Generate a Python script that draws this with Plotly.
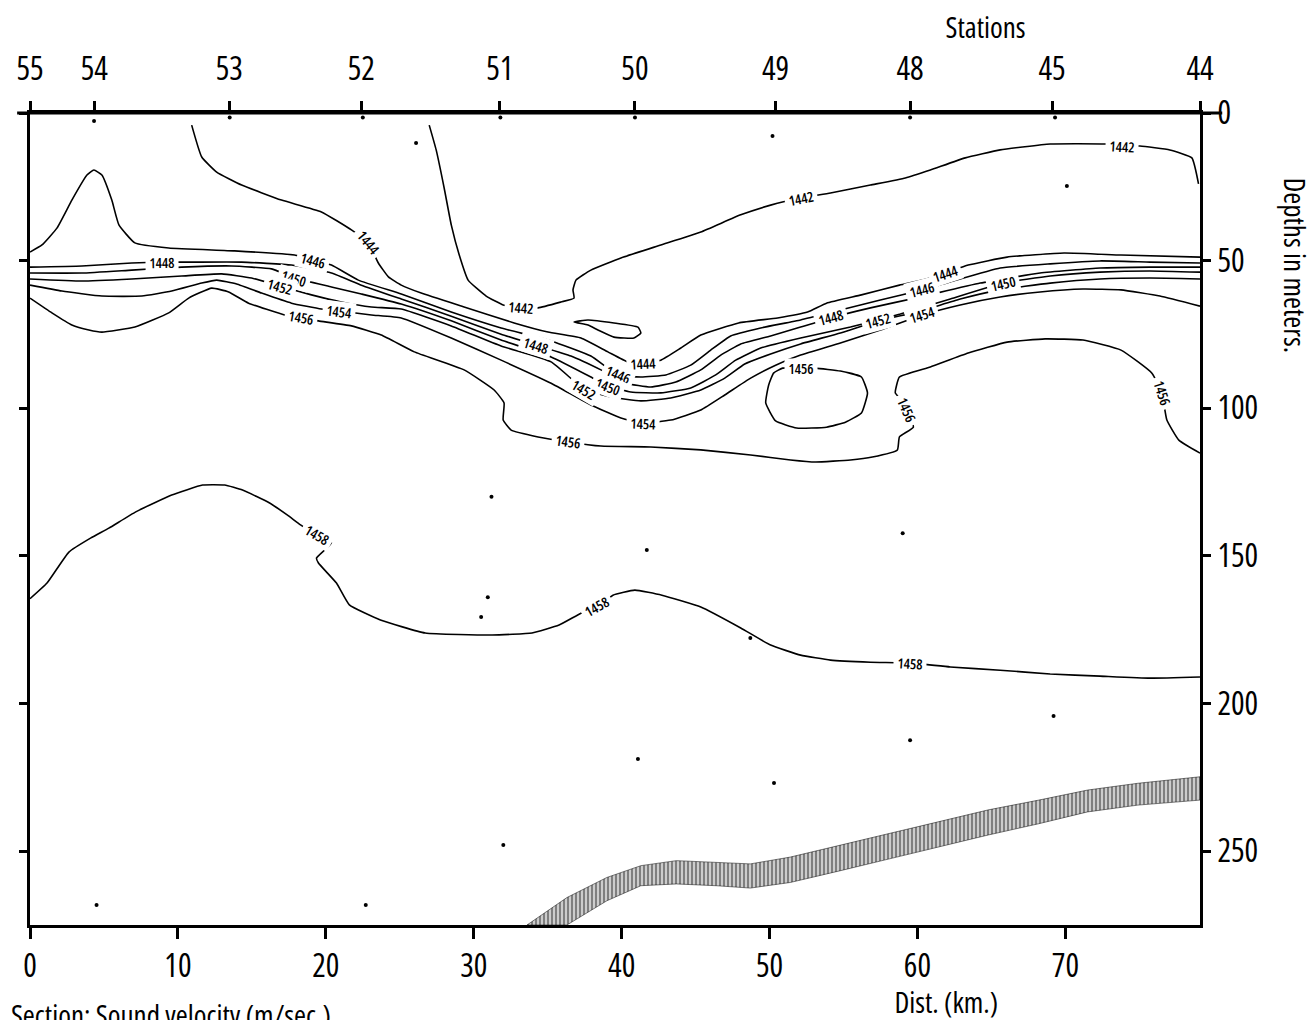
import math
import plotly.graph_objects as go

# ---- axes -----------------------------------------------------------------
station_km = [0.0, 4.35, 13.47, 22.4, 31.76, 40.9, 50.4, 59.5, 69.1, 79.1]
station_names = ["55", "54", "53", "52", "51", "50", "49", "48", "45", "44"]
dist_ticks = [0, 10, 20, 30, 40, 50, 60, 70]
depth_ticks = [0, 50, 100, 150, 200, 250]
DIST_MAX = 79.1
DEPTH_MAX = 275

# ---- sound-velocity isolines (distance km, depth m) ------------------------
c1442_km = [26.99, 27.46, 28.0, 28.48, 29.02, 29.62, 30.84, 31.99, 33.2, 34.35, 35.9, 36.78, 36.71,
            36.91, 37.92, 39.95, 42.65, 45.35, 48.05, 50.07, 52.1, 54.12, 56.82, 59.18, 60.87, 63.23,
            65.59, 68.97, 72.68, 73.82, 75.04, 77.06, 78.55, 79.0]
c1442_m = [4.1, 12.5, 25.4, 37.9, 48.1, 56.6, 62.0, 65.0, 66.0, 66.0, 64.0, 62.7, 59.9,
           56.6, 53.2, 49.1, 44.7, 40.3, 34.5, 31.2, 28.8, 27.1, 24.4, 22.0, 19.3, 15.2,
           12.5, 10.5, 10.5, 11.2, 11.2, 12.5, 15.2, 24.0]

c1444_km = [10.93, 11.61, 12.62, 14.31, 17.0, 19.7, 21.73, 22.88, 23.55, 24.23, 25.1, 26.45, 29.35,
            32.73, 35.02, 37.25, 39.07, 40.42, 41.43, 42.65, 44.0, 45.35, 47.91, 50.54, 52.57, 53.85,
            56.21, 58.78, 60.33, 61.88, 63.43, 66.06, 69.91, 73.76, 79.1]
c1444_m = [4.1, 14.9, 20.0, 24.4, 29.5, 33.5, 39.6, 44.0, 50.8, 55.5, 58.3, 61.0, 65.7,
           71.1, 74.2, 76.2, 80.9, 84.3, 84.7, 83.7, 79.6, 75.2, 71.1, 69.4, 67.4, 64.4,
           61.6, 58.3, 56.6, 54.2, 51.5, 48.8, 47.4, 48.1, 48.8]

c1444_loop_km = [36.78, 37.72, 39.48, 41.1, 41.3, 40.83, 39.48, 38.4, 37.72, 36.78]
c1444_loop_m = [70.8, 70.1, 71.1, 72.5, 74.5, 76.2, 75.9, 73.5, 71.8, 70.8]

c1446_km = [0.0, 0.81, 1.82, 2.83, 3.85, 4.32, 4.86, 5.53, 6.01, 7.09, 9.38, 13.83, 17.88, 19.16,
            20.38, 22.2, 25.1, 28.48, 31.85, 35.23, 37.92, 39.75, 41.3, 42.99, 44.67, 46.02, 47.37,
            49.4, 52.1, 54.79, 57.49, 60.33, 62.22, 65.59, 68.97, 72.34, 75.71, 79.1]
c1446_m = [47.1, 44.7, 39.0, 29.5, 21.0, 19.3, 21.0, 29.5, 37.9, 44.0, 45.7, 46.7, 48.1, 49.8,
           51.5, 56.6, 61.3, 67.4, 72.8, 77.2, 82.3, 88.7, 89.4, 88.7, 85.4, 80.3, 75.5,
           72.8, 70.1, 66.7, 63.3, 59.9, 57.2, 52.5, 51.1, 50.1, 50.5, 50.8]

c1448_km = [0.0, 3.51, 6.88, 8.91, 10.93, 14.31, 17.68, 20.38, 22.4, 25.1, 28.48, 31.85, 34.21,
            36.57, 38.6, 40.29, 41.97, 43.66, 45.35, 46.7, 48.05, 50.07, 52.1, 54.12, 56.82, 60.19,
            64.24, 68.29, 72.34, 75.71, 79.1]
c1448_m = [52.2, 51.8, 50.8, 50.5, 50.5, 50.5, 51.5, 54.2, 58.3, 63.0, 68.8, 74.9, 78.6,
           82.3, 87.0, 91.5, 92.8, 91.1, 87.0, 82.0, 78.2, 75.5, 72.5, 69.4, 66.0, 62.3,
           57.6, 54.2, 52.5, 52.2, 52.2]

c1450_km = [0.0, 3.51, 6.88, 10.26, 13.63, 16.33, 17.88, 20.38, 22.4, 25.1, 28.48, 31.85, 35.23,
            37.92, 39.07, 40.62, 42.65, 44.67, 46.36, 47.71, 49.4, 52.1, 55.47, 58.84, 62.22, 65.79,
            68.97, 72.34, 75.71, 79.1]
c1450_m = [54.2, 54.2, 53.2, 52.2, 51.8, 52.8, 55.9, 58.9, 61.3, 64.7, 70.4, 76.9, 82.6,
           89.4, 92.5, 94.5, 94.8, 93.1, 88.7, 83.7, 79.6, 76.2, 72.5, 68.1, 63.0, 57.6,
           55.2, 53.9, 53.5, 53.9]

c1452_km = [0.0, 3.51, 6.88, 10.26, 12.96, 14.98, 16.87, 19.03, 21.05, 23.08, 25.1, 28.48, 31.85,
            35.23, 37.45, 39.27, 41.3, 43.32, 45.35, 46.97, 48.32, 50.07, 52.1, 54.79, 57.36, 60.19,
            62.89, 65.59, 68.97, 72.34, 75.71, 79.1]
c1452_m = [56.2, 56.9, 56.2, 55.2, 54.5, 55.9, 58.6, 61.6, 64.0, 65.7, 66.4, 72.1, 78.9,
           84.3, 93.5, 96.2, 97.5, 96.5, 93.8, 89.8, 85.0, 81.6, 78.2, 74.5, 70.4, 67.1,
           63.0, 59.9, 57.6, 56.2, 55.9, 56.2]

c1454_km = [0.0, 2.16, 4.86, 7.56, 9.58, 11.61, 12.62, 13.97, 15.66, 17.68, 19.7, 20.92, 23.08,
            25.1, 28.48, 31.85, 35.23, 37.92, 39.95, 41.47, 43.32, 45.35, 46.97, 48.72, 50.41, 52.1,
            54.79, 57.49, 60.33, 62.89, 65.59, 68.29, 71.19, 73.76, 76.39, 79.1]
c1454_m = [58.3, 60.3, 62.0, 62.0, 60.3, 57.6, 56.6, 57.9, 61.0, 64.4, 66.4, 67.1, 68.4,
           69.4, 76.2, 83.7, 91.5, 98.9, 103.3, 105.0, 104.0, 100.6, 95.5, 89.8, 85.4, 82.0,
           77.9, 73.5, 68.4, 65.0, 62.3, 60.6, 59.6, 59.9, 62.0, 65.4]

c1456_km = [0.0, 1.48, 2.83, 3.98, 4.86, 7.09, 9.38, 10.73, 12.28, 13.43, 14.78, 17.21, 18.35,
            19.5, 21.73, 23.75, 25.98, 29.35, 31.38, 32.05, 31.99, 32.53, 34.35, 36.37, 38.6, 41.97,
            45.35, 48.72, 51.42, 53.11, 55.47, 56.95, 58.64, 58.78, 59.72, 59.32, 58.91, 58.5, 58.78,
            60.87, 63.43, 66.06, 68.63, 71.19, 73.76, 75.85, 76.52, 76.86, 77.67, 79.1]
c1456_m = [62.7, 67.7, 71.8, 73.5, 74.2, 72.5, 67.7, 62.7, 59.3, 60.6, 64.4, 68.4, 69.4,
           70.4, 72.1, 75.2, 80.9, 87.0, 93.8, 98.2, 104.0, 107.4, 109.7, 111.4, 112.8, 113.1,
           114.1, 115.8, 117.5, 118.2, 117.5, 116.5, 114.1, 109.7, 106.4, 100.6, 97.2, 94.8, 89.4,
           86.0, 81.3, 77.6, 76.5, 76.9, 80.3, 88.1, 94.8, 104.0, 110.8, 115.2]

c1456_loop_km = [50.88, 52.1, 53.11, 54.79, 56.21, 56.62, 56.21, 55.13, 53.85, 51.83, 50.41, 49.74,
                 49.94, 50.27, 50.88]
c1456_loop_m = [86.4, 86.4, 86.4, 87.4, 89.4, 94.8, 101.6, 104.7, 106.4, 106.7, 104.3, 98.2,
                92.1, 88.1, 86.4]

c1458_km = [0.0, 1.15, 2.63, 4.12, 5.33, 7.15, 9.58, 11.67, 13.16, 14.37, 16.2, 17.41, 18.29,
            19.37, 20.38, 19.37, 19.5, 20.72, 21.59, 23.69, 26.72, 31.24, 33.94, 35.77, 37.25, 38.33,
            39.41, 40.89, 42.72, 45.35, 48.05, 50.07, 52.1, 54.12, 56.82, 59.52, 62.22, 65.59, 68.97,
            72.34, 75.71, 79.1]
c1458_m = [164.5, 159.2, 148.7, 143.9, 140.6, 135.1, 129.4, 126.0, 126.0, 127.7, 132.1, 136.2, 139.5,
           142.9, 145.6, 150.7, 152.4, 159.2, 166.6, 171.7, 176.1, 176.8, 176.1, 173.4, 169.4, 167.3,
           163.3, 161.6, 163.3, 167.3, 174.4, 180.2, 183.6, 185.3, 186.0, 186.3, 187.6, 188.7, 190.0,
           190.7, 191.4, 191.0]

# ---- bottom sediment band (top and bottom edges) ----------------------------
bed_km = [33.6, 36.3, 39.0, 41.3, 43.7, 46.4, 48.7, 51.4, 54.8, 58.1, 61.5, 64.8, 68.2, 71.5, 74.9, 79.1]
bed_top_m = [275.0, 265.7, 258.9, 254.9, 253.2, 253.8, 254.3, 252.0, 248.0, 244.0, 240.0, 236.0,
             232.7, 229.3, 227.0, 224.8]
bed_bottom_m = [275.0, 275.0, 266.8, 261.7, 261.1, 261.7, 262.5, 260.6, 256.6, 252.6, 248.6, 244.5,
                240.7, 236.7, 234.4, 232.7]

# ---- sampling points -------------------------------------------------------
sample_km = [4.33, 13.5, 22.5, 31.8, 40.9, 50.2, 59.5, 69.3, 26.1, 70.1,
             31.2, 30.95, 30.5, 41.7, 59.0, 48.7,
             69.2, 59.5, 41.1, 50.3, 32.0, 4.5, 22.7]
sample_m = [2.7, 1.5, 1.5, 1.5, 1.5, 7.8, 1.5, 1.5, 10.2, 24.7,
            130.0, 164.0, 170.7, 148.0, 142.3, 177.8,
            204.2, 212.4, 218.8, 226.9, 247.9, 268.2, 268.2]

isolines = [
    (1442, c1442_km, c1442_m, [8, 20, 29]),
    (1444, c1444_km, c1444_m, [7, 18, 29]),
    (1444, c1444_loop_km, c1444_loop_m, []),
    (1446, c1446_km, c1446_m, [13, 21, 31]),
    (1448, c1448_km, c1448_m, [3, 12, 23]),
    (1450, c1450_km, c1450_m, [6, 14, 25]),
    (1452, c1452_km, c1452_m, [6, 14, 24]),
    (1454, c1454_km, c1454_m, [11, 19, 28]),
    (1456, c1456_km, c1456_m, [12, 23, 35, 46]),
    (1456, c1456_loop_km, c1456_loop_m, [1]),
    (1458, c1458_km, c1458_m, [13, 25, 35]),
]

FONT = "Open Sans"
W, H = 1316, 1020
M = dict(l=28, r=116, t=113, b=95)
px_km = (W - M["l"] - M["r"]) / DIST_MAX
px_m = (H - M["t"] - M["b"]) / DEPTH_MAX

fig = go.Figure()

# hatched sediment band
fig.add_trace(go.Scatter(
    x=bed_km + bed_km[::-1], y=bed_top_m + bed_bottom_m[::-1],
    mode="lines", fill="toself", fillcolor="white",
    line=dict(width=0.5, color="black"),
    fillpattern=dict(shape="|", size=4, solidity=0.7, fgcolor="black", bgcolor="white"),
    hoverinfo="skip"))

annotations = []
for level, xs, ys, label_at in isolines:
    fig.add_trace(go.Scatter(x=xs, y=ys, mode="lines",
                             line=dict(color="black", width=1.6, shape="spline", smoothing=0.4),
                             hoverinfo="skip"))
    for i in label_at:
        j0, j1 = max(i - 1, 0), min(i + 1, len(xs) - 1)
        dx = (xs[j1] - xs[j0]) * px_km
        dy = (ys[j1] - ys[j0]) * px_m
        ang = math.degrees(math.atan2(dy, dx))
        if ang > 90:
            ang -= 180
        elif ang < -90:
            ang += 180
        annotations.append(dict(x=xs[i], y=ys[i], xref="x", yref="y", text=str(level),
                                showarrow=False, textangle=ang, bgcolor="white", borderpad=0,
                                font=dict(family=FONT, size=14, color="black", weight=600)))

# sampling dots
fig.add_trace(go.Scatter(x=sample_km, y=sample_m, mode="markers",
                         marker=dict(color="black", size=4), hoverinfo="skip", cliponaxis=False))

axis_font = dict(family=FONT, size=32, color="black")
title_font = dict(family=FONT, size=29, color="black")
fig.update_layout(
    width=W, height=H, margin=M,
    paper_bgcolor="white", plot_bgcolor="white", showlegend=False,
    xaxis=dict(range=[0, DIST_MAX], tickvals=dist_ticks, ticks="outside", ticklen=11, tickwidth=3,
               showline=True, linewidth=3, linecolor="black", showgrid=False, zeroline=False,
               tickfont=axis_font, tickcolor="black", ticklabelstandoff=0),
    xaxis2=dict(range=[0, DIST_MAX], overlaying="x", side="top", anchor="y",
                tickvals=station_km, ticktext=station_names, ticks="outside", ticklen=9, tickwidth=3,
                showline=True, linewidth=3, linecolor="black", showgrid=False, zeroline=False,
                tickfont=axis_font, tickcolor="black", ticklabelstandoff=8),
    yaxis=dict(range=[DEPTH_MAX, 0], side="right", tickvals=depth_ticks, ticks="outside", ticklen=8,
               tickwidth=3, showline=True, linewidth=3, linecolor="black", mirror="ticks",
               showgrid=False, zeroline=False, tickfont=axis_font, tickcolor="black"),
    annotations=annotations + [
        dict(text="Stations", x=0.8166, y=1.106, xref="paper", yref="paper", showarrow=False,
             xanchor="center", yanchor="middle", font=title_font),
        dict(text="Depths in meters.", x=1.0819, y=0.8128, xref="paper", yref="paper", showarrow=False,
             xanchor="center", yanchor="middle", textangle=90, font=title_font),
        dict(text="Dist. (km.)", x=0.7833, y=-0.094, xref="paper", yref="paper", showarrow=False,
             xanchor="center", yanchor="middle", font=title_font),
        dict(text="Section: Sound velocity (m/sec.)", x=0.1203, y=-0.0837, xref="paper", yref="paper",
             xanchor="center", yanchor="top", showarrow=False, font=title_font),
    ],
)
# the top axis line runs a little past the frame on both sides
fig.add_shape(type="line", xref="paper", yref="paper", x0=-0.011, x1=1.019, y0=1, y1=1,
              line=dict(color="black", width=3))
fig.add_trace(go.Scatter(x=[0], y=[0], xaxis="x2", mode="markers", marker=dict(opacity=0),
                         hoverinfo="skip"))

# narrow lettering: switch all svg text to a condensed width, then redraw so boxes are re-measured
condense = """
var gd = document.getElementById('{plot_id}');
var s = document.createElement('style');
s.textContent = 'svg text { font-stretch: 75% !important; }';
document.head.appendChild(s);
Plotly.newPlot(gd, gd.data, gd.layout);
"""
fig.write_html("out.html", post_script=condense)
